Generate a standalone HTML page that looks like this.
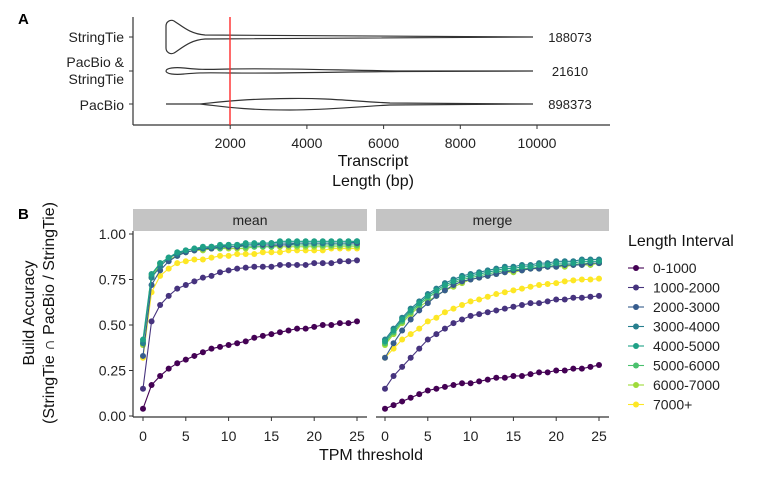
<!DOCTYPE html>
<html><head><meta charset="utf-8"><style>
html,body{margin:0;padding:0;background:#fff;}
svg{display:block;font-family:"Liberation Sans",Arial,sans-serif;}
</style></head><body>
<svg id="chart" width="768" height="480" viewBox="0 0 768 480">
<g>
<text x="18" y="24" font-size="15" font-weight="bold">A</text>
<line x1="133" y1="17" x2="133" y2="125" stroke="#333" stroke-width="1.2"/>
<line x1="133" y1="125" x2="610" y2="125" stroke="#333" stroke-width="1.2"/>
<g font-size="14" fill="#222" text-anchor="end">
<text x="124" y="42">StringTie</text>
<text x="124" y="67">PacBio &amp;</text>
<text x="124" y="84">StringTie</text>
<text x="124" y="110">PacBio</text>
</g>
<g stroke="#333"><line x1="129" y1="37" x2="133" y2="37"/><line x1="129" y1="71" x2="133" y2="71"/><line x1="129" y1="104" x2="133" y2="104"/></g>
<g fill="none" stroke="#333" stroke-width="1.2">
<path d="M166,37 L166,26 C166,22 170,19 174,21 C182,26 190,34 205,35 L533,37 L205,39 C190,40 182,48 174,53 C170,55 166,52 166,48 Z"/>
<path d="M166,71 C166,68 175,67 184,68 C195,69 200,70 230,69 C280,68 330,70 400,71 L533,71 L400,71.5 C330,72 280,73.5 230,73 C200,72.5 195,73 184,74 C175,75 166,74 166,71 Z"/>
<path d="M166,104 L200,104 C220,102 240,99 290,98.5 C330,98 350,101 390,103 L533,104 L390,105 C350,107 330,110 290,110 C240,110 220,106 200,104 Z"/>
</g>
<line x1="230" y1="17" x2="230" y2="125" stroke="#ff2a2a" stroke-width="1.4"/>
<g font-size="13" fill="#222" text-anchor="middle">
<text x="570" y="42">188073</text>
<text x="570" y="76">21610</text>
<text x="570" y="109">898373</text>
</g>
<g id="axA" font-size="14" fill="#222" text-anchor="middle"></g>
<text x="373" y="166" font-size="16" text-anchor="middle" fill="#111">Transcript</text>
<text x="373" y="186" font-size="16" text-anchor="middle" fill="#111">Length (bp)</text>
</g>
<text x="18" y="219" font-size="15" font-weight="bold">B</text>
<g id="pb"></g>
<text transform="translate(34,313) rotate(-90)" font-size="16" text-anchor="middle" fill="#111">Build Accuracy</text>
<text transform="translate(54,313) rotate(-90)" font-size="16" text-anchor="middle" fill="#111">(StringTie ∩ PacBio / StringTie)</text>
<text x="371" y="460" font-size="16" text-anchor="middle" fill="#111">TPM threshold</text>
<g id="legend">
<text x="628" y="246" font-size="16" fill="#111">Length Interval</text>
</g>
</svg>
<script>
const lenTicks=[2000,4000,6000,8000,10000];
const intervals=["0-1000","1000-2000","2000-3000","3000-4000","4000-5000","5000-6000","6000-7000","7000+"];
const colors=["#440154","#46337E","#365C8D","#277F8E","#1FA187","#4AC16D","#9FDA3A","#FDE725"];
const tpm=[0,1,2,3,4,5,6,7,8,9,10,11,12,13,14,15,16,17,18,19,20,21,22,23,24,25];
const mean0=[0.04,0.17,0.22,0.26,0.29,0.31,0.33,0.35,0.37,0.38,0.39,0.40,0.41,0.43,0.44,0.45,0.46,0.47,0.48,0.48,0.49,0.50,0.50,0.51,0.51,0.52];
const mean1=[0.15,0.52,0.61,0.66,0.70,0.72,0.74,0.76,0.77,0.79,0.80,0.81,0.815,0.82,0.82,0.82,0.83,0.83,0.83,0.83,0.84,0.84,0.84,0.85,0.85,0.855];
const mean2=[0.33,0.72,0.80,0.85,0.88,0.90,0.91,0.92,0.92,0.93,0.93,0.93,0.94,0.94,0.94,0.94,0.94,0.94,0.95,0.95,0.95,0.95,0.95,0.95,0.95,0.95];
const mean3=[0.40,0.76,0.82,0.87,0.89,0.91,0.92,0.92,0.93,0.93,0.94,0.94,0.94,0.94,0.95,0.95,0.95,0.95,0.95,0.95,0.95,0.95,0.95,0.95,0.95,0.96];
const mean4=[0.42,0.78,0.84,0.87,0.90,0.91,0.92,0.93,0.93,0.94,0.94,0.94,0.95,0.95,0.95,0.95,0.96,0.96,0.96,0.96,0.96,0.96,0.96,0.96,0.96,0.96];
const mean5=[0.41,0.77,0.84,0.87,0.89,0.90,0.91,0.92,0.92,0.92,0.93,0.93,0.93,0.93,0.93,0.93,0.94,0.94,0.94,0.94,0.94,0.94,0.94,0.94,0.94,0.94];
const mean6=[0.39,0.76,0.83,0.86,0.88,0.90,0.91,0.91,0.92,0.92,0.92,0.92,0.92,0.93,0.93,0.93,0.93,0.93,0.93,0.93,0.93,0.93,0.93,0.93,0.93,0.93];
const mean7=[0.32,0.68,0.77,0.81,0.84,0.85,0.86,0.86,0.87,0.88,0.88,0.89,0.89,0.89,0.90,0.90,0.90,0.91,0.91,0.91,0.91,0.91,0.92,0.92,0.92,0.92];
const merge0=[0.04,0.06,0.08,0.10,0.12,0.14,0.15,0.16,0.17,0.18,0.18,0.19,0.20,0.21,0.21,0.22,0.22,0.23,0.24,0.24,0.25,0.25,0.26,0.26,0.27,0.28];
const merge1=[0.15,0.22,0.27,0.32,0.37,0.42,0.45,0.48,0.51,0.53,0.55,0.56,0.57,0.58,0.59,0.60,0.61,0.62,0.62,0.63,0.64,0.64,0.65,0.65,0.655,0.66];
const merge2=[0.32,0.40,0.47,0.53,0.58,0.62,0.66,0.69,0.72,0.74,0.75,0.76,0.77,0.78,0.79,0.80,0.80,0.81,0.81,0.82,0.82,0.83,0.83,0.83,0.84,0.84];
const merge3=[0.42,0.48,0.54,0.59,0.63,0.67,0.70,0.73,0.75,0.77,0.78,0.79,0.80,0.81,0.82,0.82,0.83,0.83,0.84,0.84,0.85,0.85,0.85,0.86,0.86,0.86];
const merge4=[0.41,0.47,0.53,0.58,0.62,0.66,0.69,0.72,0.74,0.76,0.77,0.78,0.79,0.80,0.81,0.81,0.82,0.82,0.83,0.83,0.84,0.84,0.84,0.85,0.85,0.85];
const merge5=[0.40,0.46,0.52,0.57,0.61,0.65,0.68,0.71,0.73,0.75,0.76,0.77,0.78,0.79,0.80,0.80,0.81,0.81,0.82,0.82,0.83,0.83,0.83,0.84,0.84,0.84];
const merge6=[0.39,0.45,0.51,0.56,0.60,0.63,0.66,0.69,0.71,0.73,0.75,0.76,0.77,0.78,0.79,0.79,0.80,0.81,0.81,0.82,0.82,0.82,0.83,0.83,0.83,0.84];
const merge7=[0.32,0.37,0.42,0.45,0.48,0.52,0.54,0.57,0.59,0.61,0.63,0.64,0.655,0.67,0.68,0.69,0.70,0.71,0.72,0.725,0.73,0.74,0.745,0.75,0.75,0.755];
const yTicks=[0,0.25,0.5,0.75,1];
const yTickLabels=["0.00","0.25","0.50","0.75","1.00"];
const xTicks=[0,5,10,15,20,25];
const NS="http://www.w3.org/2000/svg";
function mk(tag,attrs,parent){const e=document.createElementNS(NS,tag);for(const k in attrs)e.setAttribute(k,attrs[k]);parent.appendChild(e);return e;}
// panel A axis
const lx=v=>153.5+v*(76.7/2000);
const axA=document.getElementById('axA');
lenTicks.forEach(t=>{
 const l=mk('line',{x1:lx(t),x2:lx(t),y1:125,y2:129,stroke:'#333'},axA);
 
 
 const tx=mk('text',{x:lx(t),y:148},axA);tx.textContent=t;
 
 
});
// panel B
const pb=document.getElementById('pb');
const y=v=>416-v*182;
const panels=[{name:"mean",left:133,right:367,x0:143,x25:357,data:[mean0,mean1,mean2,mean3,mean4,mean5,mean6,mean7]},
 {name:"merge",left:376,right:609,x0:385,x25:599,data:[merge0,merge1,merge2,merge3,merge4,merge5,merge6,merge7]}];
panels.forEach((p,pi)=>{
 const g=mk('g',{},pb);
 
 
 const x=v=>p.x0+v*(p.x25-p.x0)/25;
 const strip=mk('rect',{x:p.left,y:209,width:p.right-p.left,height:22,fill:'#c4c4c4'},g);
 
 
 const st=mk('text',{x:(p.left+p.right)/2,y:225,'font-size':14,'text-anchor':'middle',fill:'#222'},g);st.textContent=p.name;
 
 
 const xa=mk('line',{x1:p.left,x2:p.right,y1:417,y2:417,stroke:'#333','stroke-width':1.2},g);
 
 
 xTicks.forEach(t=>{
  const l=mk('line',{x1:x(t),x2:x(t),y1:417,y2:421,stroke:'#333'},g);
  
  
  const tx=mk('text',{x:x(t),y:441,'font-size':14,'text-anchor':'middle',fill:'#222'},g);tx.textContent=t;
  
  
 });
 if(pi===0){
  const ya=mk('line',{x1:133,x2:133,y1:231,y2:417,stroke:'#333','stroke-width':1.2},g);
  
  
  yTicks.forEach((t,i)=>{
   const l=mk('line',{x1:129,x2:133,y1:y(t),y2:y(t),stroke:'#333'},g);
   
   
   const tx=mk('text',{x:126,y:y(t)+5,'font-size':14,'text-anchor':'end',fill:'#222'},g);tx.textContent=yTickLabels[i];
   
   
  });
 }
 const order=[0,1,7,6,5,2,3,4];
 order.forEach(si=>{
  const arr=p.data[si];
  const sg=mk('g',{},g);
  
  
  const pts=tpm.map((t,i)=>x(t)+','+y(arr[i])).join(' ');
  const pl=mk('polyline',{points:pts,fill:'none',stroke:colors[si],'stroke-width':1.1},sg);
  
  
  tpm.forEach((t,i)=>{
   const c=mk('circle',{cx:x(t),cy:y(arr[i]),r:3,fill:colors[si]},sg);
   
   
  });
 });
});
const lg=document.getElementById('legend');
intervals.forEach((n,i)=>{
 const yy=268+i*19.5;
 const eg=mk('g',{},lg);
 
 
 mk('line',{x1:628,x2:644,y1:yy,y2:yy,stroke:colors[i],'stroke-width':1.1},eg);
 mk('circle',{cx:636,cy:yy,r:3,fill:colors[i]},eg);
 const t=mk('text',{x:653,y:yy+5,'font-size':14,fill:'#222'},eg);t.textContent=n;
});
</script>
</body></html>
